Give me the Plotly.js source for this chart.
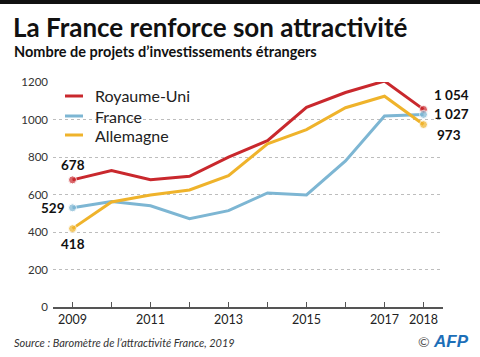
<!DOCTYPE html>
<html><head><meta charset="utf-8">
<script src="https://cdn.plot.ly/plotly-3.0.1.min.js"></script>
<style>html,body{margin:0;padding:0;background:#fff}#c{width:480px;height:357px}</style>
</head><body><div id="c"></div>
<script>
const years = [2009,2010,2011,2012,2013,2014,2015,2016,2017,2018];
const royaumeUni = [678,728,679,697,799,887,1065,1144,1205,1054];
const france = [529,562,540,471,514,608,598,779,1019,1027];
const allemagne = [418,560,597,624,701,870,946,1063,1124,973];
const seriesNames = ['Royaume-Uni','France','Allemagne'];
const tickText = ['2009','','2011','','2013','','2015','','2017','2018'];
const yTicks = [0,200,400,600,800,1000,1200];

const colors = ['#c9282d','#7db6d3','#efb32b'];
const FONT = 'Lato, "Source Sans Pro", sans-serif';
const endSizes = years.map((y,i)=> (i===0||i===years.length-1)?8:0);

const data = [royaumeUni, france, allemagne].map((v,i)=>({
  x: years, y: v, type:'scatter', mode:'lines+markers', name: seriesNames[i],
  line:{color:colors[i], width:3}, marker:{color:colors[i], size:endSizes},
  cliponaxis:false, hoverinfo:'skip', showlegend:false
}));

function fmt(n){ const s=String(n); return s.length>3 ? s.slice(0,-3)+' '+s.slice(-3) : s; }

const W=390, H=225;
const px = v => v/W, py = v => v/H;
const annotations = [
  {text:'La France renforce son attractivité', x:-px(42), y:1+py(82-27), xanchor:'left', yanchor:'middle', font:{size:26, family:FONT, color:'#111', weight:'bold'}},
  {text:'Nombre de projets d’investissements étrangers', x:-px(41), y:1+py(82-51), xanchor:'left', yanchor:'middle', font:{size:14.5, family:FONT, color:'#111', weight:'bold'}},
  {text:'<i>Source : Baromètre de l’attractivité France, 2019</i>', x:-px(41), y:-py(342-307), xanchor:'left', yanchor:'middle', font:{size:11, family:FONT, color:'#333'}},
  {text:'©', x:1+px(424-443), y:-py(341-307), xanchor:'center', yanchor:'middle', font:{size:14, family:FONT, color:'#555'}},
  {text:'<b><i>AFP</i></b>', x:1+px(451-443), y:-py(341-307), xanchor:'center', yanchor:'middle', font:{size:17, family:'Arial, sans-serif', color:'#1d6fb8'}},
  // start labels
  {text:'<b>'+royaumeUni[0]+'</b>', x:years[0], y:royaumeUni[0], xref:'x', yref:'y', yshift:15, xanchor:'center', font:{size:13.5, family:FONT, color:'#111'}},
  {text:'<b>'+france[0]+'</b>', x:years[0], y:france[0], xref:'x', yref:'y', xshift:-6, xanchor:'right', yanchor:'middle', font:{size:13.5, family:FONT, color:'#111'}},
  {text:'<b>'+allemagne[0]+'</b>', x:years[0], y:allemagne[0], xref:'x', yref:'y', yshift:-15, xanchor:'center', font:{size:13.5, family:FONT, color:'#111'}},
  // end labels
  {text:'<b>'+fmt(royaumeUni[9])+'</b>', x:years[9], y:royaumeUni[9], xref:'x', yref:'y', xshift:8, yshift:14, xanchor:'left', yanchor:'middle', font:{size:13.5, family:FONT, color:'#111'}},
  {text:'<b>'+fmt(france[9])+'</b>', x:years[9], y:france[9], xref:'x', yref:'y', xshift:8, yshift:0, xanchor:'left', yanchor:'middle', font:{size:13.5, family:FONT, color:'#111'}},
  {text:'<b>'+fmt(allemagne[9])+'</b>', x:years[9], y:allemagne[9], xref:'x', yref:'y', xshift:11, yshift:-10, xanchor:'left', yanchor:'middle', font:{size:13.5, family:FONT, color:'#111'}}
];
// legend
const legY = [96,116,135];
seriesNames.forEach((n,i)=>{
  annotations.push({text:n, x:px(93-53), y:1-py(legY[i]-82), xanchor:'left', yanchor:'middle', font:{size:16, family:FONT, color:'#222'}});
});
const shapes = [
  {type:'rect', xref:'paper', yref:'paper', x0:-px(53), x1:1+px(37), y0:1+py(82-4), y1:1+py(82), fillcolor:'#111', line:{width:0}, layer:'above'}
];
seriesNames.forEach((n,i)=>{
  shapes.push({type:'line', xref:'paper', yref:'paper', x0:px(65-53), x1:px(83-53), y0:1-py(legY[i]-82), y1:1-py(legY[i]-82), line:{color:colors[i], width:3}});
});
annotations.forEach(a=>{ if(!a.xref){a.xref='paper'; a.yref='paper';} a.showarrow=false; });

const layout = {
  width:480, height:357, margin:{l:53, r:37, t:82, b:50},
  paper_bgcolor:'#fff', plot_bgcolor:'#fff', showlegend:false,
  font:{family:FONT, color:'#333'},
  xaxis:{range:[2008.5,2018.5], tickvals:years, ticktext:tickText, ticks:'inside', ticklen:5, tickcolor:'#555', tickwidth:1,
    showgrid:false, zeroline:false, showline:true, linecolor:'#555', linewidth:1.5, tickfont:{size:12.5, color:'#222', family:FONT}, fixedrange:true},
  yaxis:{range:[0,1200], tickvals:yTicks, showgrid:true, gridcolor:'#bdbdbd', griddash:'dot', gridwidth:1, zeroline:false, showline:false,
    ticks:'', ticklabelstandoff:4, tickfont:{size:11.5, color:'#333', family:FONT}, fixedrange:true},
  annotations, shapes
};
Plotly.newPlot('c', data, layout, {staticPlot:true, displayModeBar:false});
</script></body></html>
